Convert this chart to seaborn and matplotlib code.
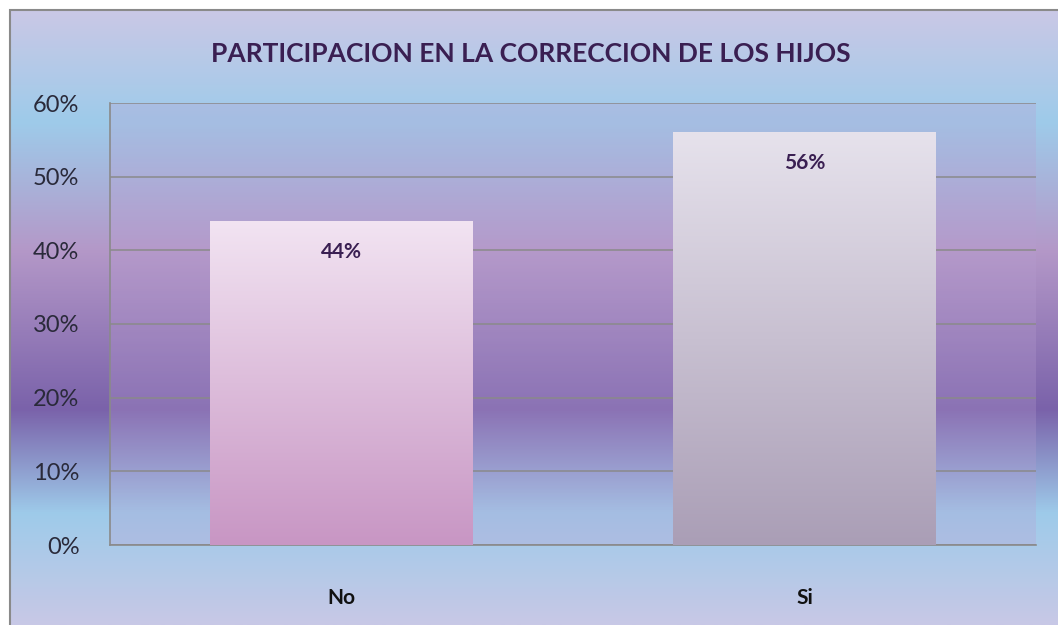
# Gráfico de barras: participación en la corrección de los hijos
import matplotlib
matplotlib.use("Agg")
import matplotlib.pyplot as plt
from matplotlib.colors import LinearSegmentedColormap
from matplotlib.patches import Rectangle
from matplotlib.ticker import PercentFormatter
import numpy
import pandas
import seaborn

# Datos
categorias = ["No", "Si"]
porcentajes = [44, 56]
titulo = "PARTICIPACION EN LA CORRECCION DE LOS HIJOS"

seaborn.set_theme(style="white")
plt.rcParams["font.family"] = ["Lato", "DejaVu Sans"]

fig = plt.figure(figsize=(10.58, 6.25), dpi=100)

# Fondo degradado del gráfico (de arriba hacia abajo)
fondo = LinearSegmentedColormap.from_list(
    "fondo",
    [
        (0.0, "#cac8e6"),
        (0.18, "#9ecbea"),
        (0.39, "#b498c8"),
        (0.65, "#7a62aa"),
        (0.82, "#9ecbea"),
        (1.0, "#c8c8e6"),
    ],
)
axFondo = fig.add_axes([10 / 1058, 0, 1 - 10 / 1058, 615 / 625], zorder=0)
axFondo.imshow(
    numpy.linspace(0, 1, 256).reshape(-1, 1),
    cmap=fondo,
    aspect="auto",
    extent=(0, 1, 0, 1),
)
axFondo.set_axis_off()
fig.patches.append(
    Rectangle(
        (10 / 1058, -0.1), 1.2, 1 - 10 / 625 + 0.1,
        transform=fig.transFigure, fill=False, edgecolor="#8a8a8a", lw=1.5, zorder=5,
    )
)

# Área del gráfico
ax = fig.add_axes([110 / 1058, 80 / 625, 926 / 1058, 442 / 625], zorder=1)
ax.set_facecolor((0.72, 0.62, 0.82, 0.28))

datos = pandas.DataFrame({"categoria": categorias, "porcentaje": porcentajes})
seaborn.barplot(data=datos, x="categoria", y="porcentaje", width=0.568, ax=ax, zorder=3)

# Degradado en las barras
degradados = [
    LinearSegmentedColormap.from_list("no", ["#c896c4", "#f2e4f2"]),
    LinearSegmentedColormap.from_list("si", ["#aa9eb6", "#e6e2ec"]),
]
for barra, cmap in zip(ax.patches, degradados):
    x0, y0 = barra.get_x(), barra.get_y()
    w, h = barra.get_width(), barra.get_height()
    barra.set_facecolor("none")
    barra.set_edgecolor("none")
    img = ax.imshow(
        numpy.linspace(0, 1, 256).reshape(-1, 1),
        cmap=cmap,
        origin="lower",
        aspect="auto",
        extent=(x0, x0 + w, y0, y0 + h),
        zorder=3,
    )
    img.set_clip_path(barra)
    ax.text(
        x0 + w / 2, y0 + h - 4.2, f"{int(round(h))}%",
        ha="center", va="center", fontsize=15, fontweight="bold", color="#3a1f52", zorder=4,
    )

ax.set_xlim(-0.5, 1.5)
ax.set_ylim(0, 60)
ax.set_yticks(range(0, 61, 10))
ax.yaxis.set_major_formatter(PercentFormatter(decimals=0))
ax.grid(axis="y", color="#8a8a8a", lw=1.1, zorder=1)
ax.set_axisbelow(True)
for lado in ["top", "right"]:
    ax.spines[lado].set_visible(False)
for lado in ["left", "bottom"]:
    ax.spines[lado].set_color("#8a8a8a")
    ax.spines[lado].set_linewidth(1.2)
ax.tick_params(axis="y", labelsize=17, labelcolor="#2a2a3a", length=0, pad=22)
ax.tick_params(axis="x", labelsize=15, labelcolor="#111111", length=0, pad=31)
for etiqueta in ax.get_xticklabels():
    etiqueta.set_fontweight("bold")
ax.set_xlabel("")
ax.set_ylabel("")

fig.text(0.502, 0.914, titulo, ha="center", va="center", fontsize=19,
         fontweight="bold", color="#3a1f52")

fig.savefig("out.png", dpi=100)
